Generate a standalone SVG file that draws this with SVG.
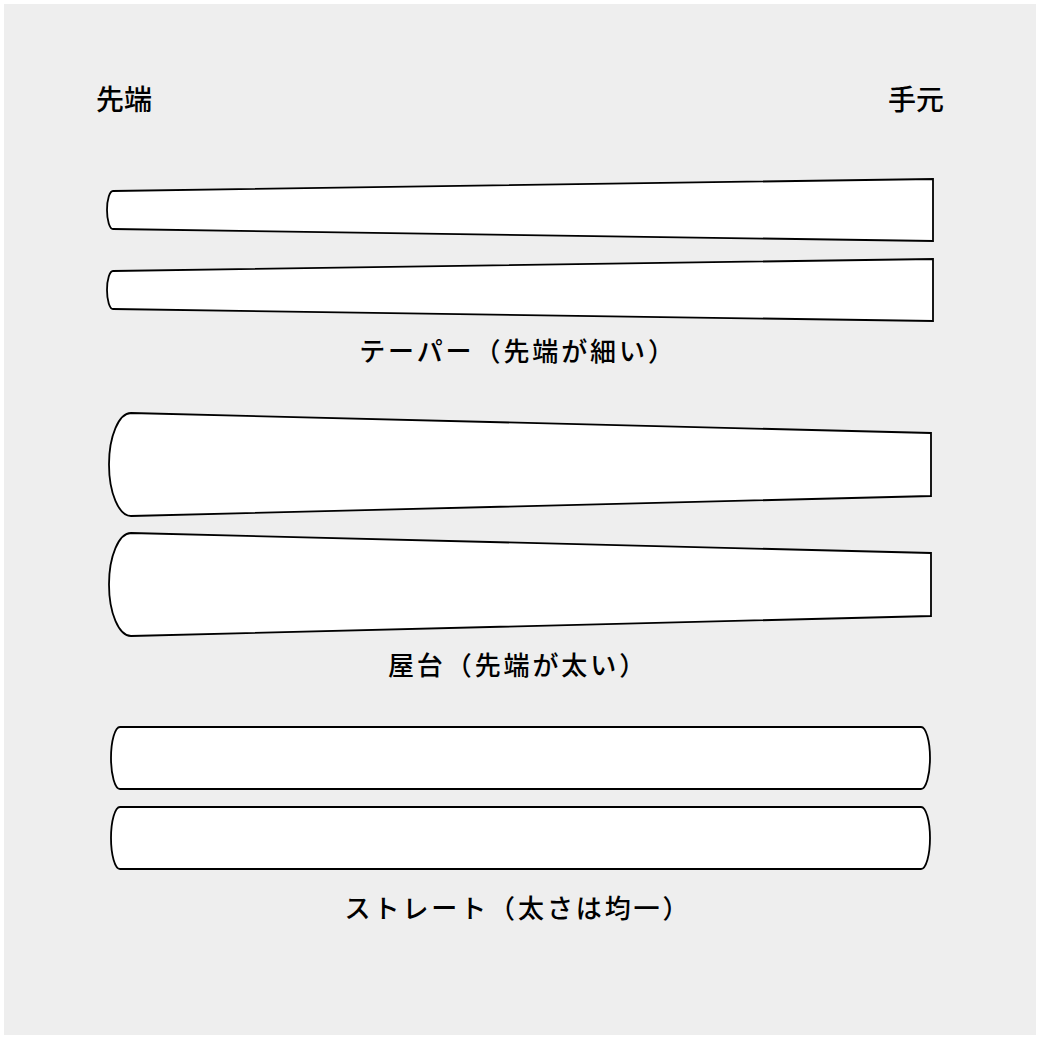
<svg xmlns="http://www.w3.org/2000/svg" width="1040" height="1040" viewBox="0 0 1040 1040">
<style>
.bat{fill:#fff;stroke:#000;stroke-width:1.8;stroke-linejoin:miter}
.end{font-family:"Noto Sans CJK JP","Noto Sans",sans-serif;font-size:28px;font-weight:500;fill:#000}
.lbl{font-family:"Noto Sans CJK JP","Noto Sans",sans-serif;font-size:26px;font-weight:500;fill:#000;letter-spacing:2.9px;text-anchor:middle}
</style>
<rect x="0" y="0" width="1040" height="1040" fill="#fff"/>
<rect x="4" y="4" width="1032" height="1031" fill="#eeeeee"/>
<text class="end" x="96" y="110">先端</text>
<text class="end" x="944" y="110" text-anchor="end">手元</text>
<g id="taper1"><path class="bat" d="M113,191 L933,179 L933,241 L113,229 A6,19 0 0 1 113,191 Z"/></g>
<g id="taper2"><path class="bat" d="M113,271 L933,259 L933,321 L113,309 A6,19 0 0 1 113,271 Z"/></g>
<text class="lbl" x="518" y="361">テーパー（先端が細い）</text>
<g id="yatai1"><path class="bat" d="M131,413 L931,433 L931,496 L131,516 A22,51.5 0 0 1 131,413 Z"/></g>
<g id="yatai2"><path class="bat" d="M131,533 L931,553 L931,616 L131,636 A22,51.5 0 0 1 131,533 Z"/></g>
<text class="lbl" x="518" y="675">屋台（先端が太い）</text>
<g id="straight1"><path class="bat" d="M120,727 L921,727 A9,31 0 0 1 921,789 L120,789 A9,31 0 0 1 120,727 Z"/></g>
<g id="straight2"><path class="bat" d="M120,807 L921,807 A9,31 0 0 1 921,869 L120,869 A9,31 0 0 1 120,807 Z"/></g>
<text class="lbl" x="518" y="918">ストレート（太さは均一）</text>
</svg>
